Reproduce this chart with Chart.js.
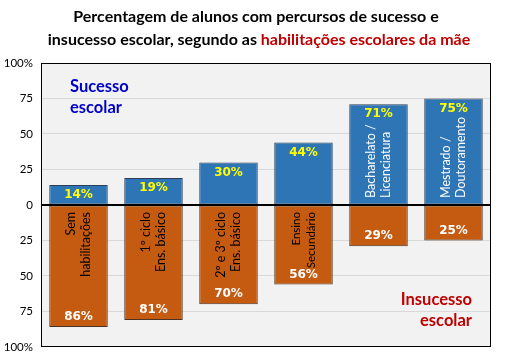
<!DOCTYPE html>
<html>
<head>
<meta charset="utf-8">
<script src="https://cdn.jsdelivr.net/npm/chart.js@4/dist/chart.umd.min.js"></script>
<style>
html,body{margin:0;padding:0;background:#fff;}
#wrap{width:527px;height:355px;position:relative;}
</style>
</head>
<body>
<div id="wrap"><canvas id="c" width="527" height="355"></canvas></div>
<script>
const categories = [
  ["Sem", "habilitações"],
  ["1º ciclo", "Ens. básico"],
  ["2º e 3º ciclo", "Ens. básico"],
  ["Ensino", "Secundário"],
  ["Bacharelato /", "Licenciatura"],
  ["Mestrado /", "Doutoramento"]
];
const sucesso = [14, 19, 30, 44, 71, 75];
const insucesso = [86, 81, 70, 56, 29, 25];
const yTicks = [-100, -75, -50, -25, 0, 25, 50, 75, 100];
const titleLine1 = "Percentagem de alunos com percursos de sucesso e";
const titleLine2a = "insucesso escolar, segundo as ";
const titleLine2b = "habilitações escolares da mãe";

const BLUE = '#2e75b6', ORANGE = '#c55a11';

const overlay = {
  id: 'overlay',
  beforeDraw(chart) {
    const {ctx, chartArea: a} = chart;
    ctx.save();
    ctx.fillStyle = '#f2f2f2';
    ctx.fillRect(a.left, a.top, a.right - a.left, a.bottom - a.top);
    ctx.restore();
  },
  afterDatasetsDraw(chart) {
    const {ctx, chartArea: a, scales} = chart;
    const y0 = scales.y.getPixelForValue(0);
    ctx.save();
    ctx.strokeStyle = '#000';
    ctx.lineWidth = 2;
    ctx.beginPath();
    ctx.moveTo(a.left, y0);
    ctx.lineTo(a.right, y0);
    ctx.stroke();
    ctx.lineWidth = 1;
    ctx.strokeStyle = '#000';
    ctx.strokeRect(Math.round(a.left) + 0.5, Math.round(a.top) + 0.5, Math.round(a.right - a.left) - 1, Math.round(a.bottom - a.top) - 1);

    const mPos = chart.getDatasetMeta(0), mNeg = chart.getDatasetMeta(1);
    ctx.font = 'bold 12px "DejaVu Sans"';
    ctx.textAlign = 'center';
    ctx.textBaseline = 'middle';
    mPos.data.forEach((el, i) => {
      ctx.fillStyle = '#ffff00';
      ctx.fillText(sucesso[i] + '%', el.x, el.y + 10);
    });
    mNeg.data.forEach((el, i) => {
      ctx.fillStyle = '#ffffff';
      ctx.fillText(insucesso[i] + '%', el.x, el.y - 10);
    });
    categories.forEach((lines, i) => {
      const cx = mPos.data[i].x;
      const inBlue = i >= 4;
      const size = i === 3 ? 11.5 : 12.5;
      ctx.save();
      ctx.font = size + 'px Lato';
      ctx.fillStyle = inBlue ? '#ffffff' : '#000000';
      ctx.translate(cx, inBlue ? y0 - 7 : y0 + 7);
      ctx.rotate(-Math.PI / 2);
      ctx.textAlign = inBlue ? 'left' : 'right';
      ctx.textBaseline = 'middle';
      ctx.fillText(lines[0], 0, -7.5);
      ctx.fillText(lines[1], 0, 7.5);
      ctx.restore();
    });
    ctx.font = 'bold 16.5px Lato';
    ctx.textBaseline = 'middle';
    ctx.textAlign = 'left';
    ctx.fillStyle = '#0000c8';
    ctx.fillText('Sucesso', 70, 87);
    ctx.fillText('escolar', 70, 108);
    ctx.textAlign = 'right';
    ctx.fillStyle = '#c00000';
    ctx.fillText('Insucesso', 472, 300);
    ctx.fillText('escolar', 472, 321);
    ctx.font = 'bold 16px Lato';
    ctx.textAlign = 'left';
    ctx.fillStyle = '#000';
    const cxT = 259;
    const w1 = ctx.measureText(titleLine1).width;
    ctx.fillText(titleLine1, cxT - w1 / 2 - 3, 17);
    const wa = ctx.measureText(titleLine2a).width;
    const wb = ctx.measureText(titleLine2b).width;
    const sx = cxT - (wa + wb) / 2;
    ctx.fillText(titleLine2a, sx, 40);
    ctx.fillStyle = '#c00000';
    ctx.fillText(titleLine2b, sx + wa, 40);
    ctx.restore();
  }
};

new Chart(document.getElementById('c'), {
  type: 'bar',
  data: {
    labels: categories.map(c => c.join(' ')),
    datasets: [
      {
        label: 'Sucesso escolar',
        data: sucesso,
        backgroundColor: BLUE,
        borderColor: '#2a3f55',
        borderWidth: 1,
        borderSkipped: false,
        barPercentage: 0.78,
        categoryPercentage: 1
      },
      {
        label: 'Insucesso escolar',
        data: insucesso.map(v => -v),
        backgroundColor: ORANGE,
        borderColor: '#4a3322',
        borderWidth: 1,
        borderSkipped: false,
        barPercentage: 0.78,
        categoryPercentage: 1
      }
    ]
  },
  options: {
    responsive: false,
    animation: false,
    devicePixelRatio: 1,
    layout: { padding: { top: 63, bottom: 1, right: 36, left: 0 } },
    plugins: { legend: { display: false }, tooltip: { enabled: false }, title: { display: false } },
    scales: {
      x: { stacked: true, display: false },
      y: {
        stacked: true,
        min: -100, max: 100,
        afterFit(scale) { scale.width = 41; },
        afterBuildTicks(scale) { scale.ticks = yTicks.map(v => ({ value: v })); },
        ticks: {
          padding: 8,
          color: '#000',
          font: { family: 'Lato', size: 11.5, lineHeight: 0.01 },
          callback: v => Math.abs(v) === 100 ? '100%' : String(Math.abs(v))
        },
        grid: { color: '#d9d9d9', drawTicks: false },
        border: { display: false }
      }
    }
  },
  plugins: [overlay]
});
</script>
</body>
</html>
